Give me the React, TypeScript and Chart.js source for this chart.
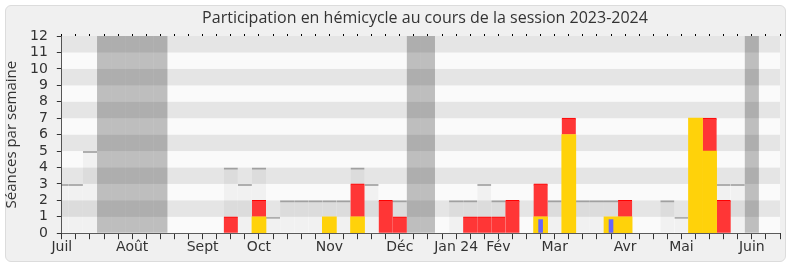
import React, { useEffect, useRef } from 'react';
import { Chart, registerables } from 'chart.js';

Chart.register(...registerables);

const chartTitle = 'Participation en hémicycle au cours de la session 2023-2024';
const yAxisTitle = 'Séances par semaine';

// one entry per week, July 2023 -> June 2024
const weekLabels = [
  'Juil', '', '', '', '', 'Août', '', '', '', '', 'Sept', '', '', '', 'Oct', '', '', '', '', 'Nov',
  '', '', '', '', 'Déc', '', '', '', 'Jan 24', '', '', 'Fév', '', '', '', 'Mar', '', '', '', '',
  'Avr', '', '', '', 'Mai', '', '', '', '', 'Juin', '', '',
];

const yTicks = [0, 1, 2, 3, 4, 5, 6, 7, 8, 9, 10, 11, 12];

// sessions held in the hemicycle each week (grey steps)
const sessionsPerWeek = [
  3, 3, 5, null, null, null, null, null, null, null, null, null, 4, 3, 4, 1, 2, 2, 2, 2,
  2, 4, 3, 2, 2, null, null, null, 2, 2, 3, 2, 2, null, 3, 2, 7, 2, 2, 2,
  2, null, null, 2, 1, 7, 7, 3, 3, null, null, null,
];

// parliamentary holidays (dark grey columns)
const holidayWeeks = [
  null, null, null, 12, 12, 12, 12, 12, null, null, null, null, null, null, null, null, null, null, null, null,
  null, null, null, null, null, 12, 12, null, null, null, null, null, null, null, null, null, null, null, null, null,
  null, null, null, null, null, null, null, null, null, 12, null, null,
];

// yellow series
const yellowSeries = [
  null, null, null, null, null, null, null, null, null, null, null, null, null, null, 1, null, null, null, null, 1,
  null, 1, null, null, null, null, null, null, null, null, null, null, null, null, 1, null, 6, null, null, 1,
  1, null, null, null, null, 7, 5, null, null, null, null, null,
];

// red series (stacked on yellow)
const redSeries = [
  null, null, null, null, null, null, null, null, null, null, null, null, 1, null, 1, null, null, null, null, null,
  null, 2, null, 2, 1, null, null, null, null, 1, 1, 1, 2, null, 2, null, 1, null, null, null,
  1, null, null, null, null, null, 2, 2, null, null, null, null,
];

// blue narrow series
const blueSeries = [
  null, null, null, null, null, null, null, null, null, null, null, null, null, null, null, null, null, null, null, null,
  null, null, null, null, null, null, null, null, null, null, null, null, null, null, 0.85, null, null, null, null, 0.85,
  null, null, null, null, null, null, null, null, null, null, null, null,
];

const bandsPlugin = {
  id: 'bands',
  beforeDatasetsDraw(chart: any) {
    const { ctx, chartArea, scales } = chart;
    const y = scales.y;
    ctx.save();
    for (let i = 0; i < yTicks.length - 1; i++) {
      const v = yTicks[i];
      const top = y.getPixelForValue(yTicks[i + 1]);
      const bottom = y.getPixelForValue(v);
      ctx.fillStyle = v % 2 === 1 ? '#e5e5e5' : '#fafafa';
      ctx.fillRect(chartArea.left, top, chartArea.right - chartArea.left, bottom - top);
    }
    ctx.restore();
  },
};

const titlePlugin = {
  id: 'customTitle',
  afterDraw(chart: any) {
    const { ctx } = chart;
    ctx.save();
    ctx.font = '16px "Open Sans"';
    ctx.fillStyle = '#333333';
    ctx.textAlign = 'center';
    ctx.textBaseline = 'middle';
    ctx.fillText(chartTitle, 425, 18);
    ctx.restore();
  },
};

export default function App() {
  const canvasRef = useRef<HTMLCanvasElement | null>(null);

  useEffect(() => {
    const canvas = canvasRef.current;
    if (!canvas) return;
    const tickFont = { family: '"DejaVu Sans"', size: 14 };
    const common = {
      grouped: false,
      categoryPercentage: 1,
      barPercentage: 1,
      clip: 0,
    };
    const chart = new Chart(canvas, {
      type: 'bar',
      data: {
        labels: weekLabels,
        datasets: [
          {
            label: 'Vacances',
            data: holidayWeeks,
            backgroundColor: 'rgba(0,0,0,0.24)',
            borderWidth: 0,
            stack: 'holiday',
            order: 5,
            inflateAmount: 0,
            ...common,
          },
          {
            label: 'Séances',
            data: sessionsPerWeek,
            backgroundColor: 'rgba(0,0,0,0.035)',
            borderColor: 'rgba(0,0,0,0.3)',
            borderWidth: { top: 2, left: 0, right: 0, bottom: 0 },
            stack: 'sessions',
            order: 4,
            inflateAmount: 0,
            ...common,
          },
          {
            label: 'Jaune',
            data: yellowSeries,
            backgroundColor: '#ffd20a',
            borderWidth: 0,
            stack: 'presence',
            order: 2,
            ...common,
          },
          {
            label: 'Rouge',
            data: redSeries,
            backgroundColor: '#ff3636',
            borderColor: '#ff0000',
            borderWidth: { top: 1, left: 0, right: 0, bottom: 0 },
            stack: 'presence',
            order: 3,
            ...common,
          },
          {
            label: 'Bleu',
            data: blueSeries,
            backgroundColor: '#6666ff',
            borderWidth: 0,
            stack: 'blue',
            order: 1,
            ...common,
            barPercentage: 0.33,
          },
        ],
      },
      options: {
        responsive: false,
        animation: false,
        layout: { padding: { left: 0, right: 10, top: 34, bottom: 11 } },
        plugins: {
          legend: { display: false },
          title: { display: false },
          tooltip: { enabled: false },
        },
        scales: {
          x: {
            type: 'category',
            offset: false,
            stacked: true,
            grid: { offset: false, drawOnChartArea: false, tickLength: 6, tickColor: '#333333' },
            border: { color: '#333333' },
            ticks: {
              autoSkip: false,
              maxRotation: 0,
              minRotation: 0,
              padding: 0,
              color: '#333333',
              font: tickFont,
            },
          },
          xTop: {
            type: 'category',
            position: 'top',
            offset: false,
            grid: { offset: false, drawOnChartArea: false, tickLength: 2, tickColor: '#000000' },
            border: { display: false },
            ticks: { display: false, autoSkip: false },
          },
          y: {
            stacked: true,
            min: 0,
            max: 12,
            grid: { drawOnChartArea: false, tickLength: 5, tickColor: '#333333' },
            border: { color: '#333333' },
            ticks: {
              stepSize: 1,
              autoSkip: false,
              padding: 9,
              color: '#333333',
              font: tickFont,
            },
            title: {
              display: true,
              text: yAxisTitle,
              color: '#333333',
              font: { family: '"Open Sans"', size: 15 },
              padding: { top: 3, bottom: 0 },
            },
          },
        },
      },
      plugins: [bandsPlugin, titlePlugin],
    } as any);
    return () => chart.destroy();
  }, []);

  return (
    <div style={{ position: 'fixed', left: 0, top: 0, width: 790, height: 267, background: '#ffffff' }}>
      <div
        style={{
          position: 'absolute',
          left: 5,
          top: 5,
          width: 781,
          height: 257,
          boxSizing: 'border-box',
          border: '1px solid #dcdcdc',
          borderRadius: 6,
          background: '#f0f0f0',
        }}
      />
      <canvas
        ref={canvasRef}
        width={790}
        height={267}
        style={{ position: 'absolute', left: 0, top: 0, width: 790, height: 267 }}
      />
    </div>
  );
}
